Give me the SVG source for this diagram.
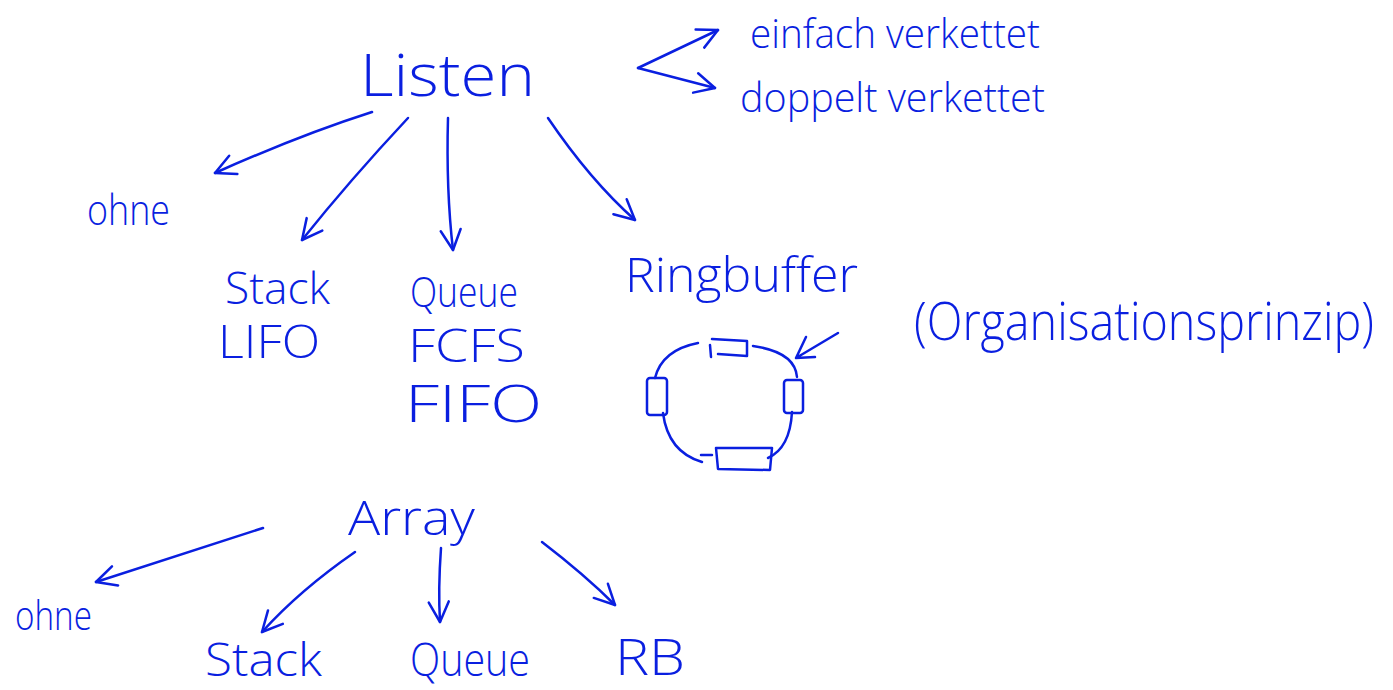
<svg xmlns="http://www.w3.org/2000/svg" width="1393" height="690" viewBox="0 0 1393 690">
<defs>
<style>
.t{font-family:"Open Sans","Liberation Sans",sans-serif;font-weight:300;fill:#0a1fe0}
.c path,.rb path,.rb rect{fill:none;stroke:#0a1fe0;stroke-width:2.5;stroke-linecap:round;stroke-linejoin:round}
</style>
<marker id="ah" viewBox="0 0 24 24" refX="22" refY="12" markerWidth="24" markerHeight="24" markerUnits="userSpaceOnUse" orient="auto">
<path d="M2,2 L22,12 L2,22" fill="none" stroke="#0a1fe0" stroke-width="2.5" stroke-linecap="round" stroke-linejoin="round"/>
</marker>
</defs>
<rect width="1393" height="690" fill="#ffffff"/>
<g class="c" id="connectors">
<path d="M372,112 Q300,135 215,173" marker-end="url(#ah)"/>
<path d="M408,118 Q350,180 302,240" marker-end="url(#ah)"/>
<path d="M448,118 Q446,190 453,250" marker-end="url(#ah)"/>
<path d="M548,118 Q590,180 635,220" marker-end="url(#ah)"/>
<path d="M638,68 L718,30" marker-end="url(#ah)"/>
<path d="M638,68 L715,88" marker-end="url(#ah)"/>
<path d="M263,528 Q180,555 96,582" marker-end="url(#ah)"/>
<path d="M355,552 Q300,590 262,632" marker-end="url(#ah)"/>
<path d="M441,548 Q438,590 440,622" marker-end="url(#ah)"/>
<path d="M542,542 Q585,575 615,605" marker-end="url(#ah)"/>
</g>
<g id="listen"><text class="t" x="360" y="96" font-size="58" textLength="175" lengthAdjust="spacingAndGlyphs">Listen</text></g>
<g id="einfach"><text class="t" x="750" y="48" font-size="40" textLength="290" lengthAdjust="spacingAndGlyphs">einfach verkettet</text></g>
<g id="doppelt"><text class="t" x="740" y="112" font-size="40" textLength="305" lengthAdjust="spacingAndGlyphs">doppelt verkettet</text></g>
<g id="ohne1"><text class="t" x="87" y="225" font-size="42" textLength="83" lengthAdjust="spacingAndGlyphs">ohne</text></g>
<g id="stack1"><text class="t" x="225" y="304" font-size="44" textLength="105" lengthAdjust="spacingAndGlyphs">Stack</text><text class="t" x="218" y="358" font-size="46" textLength="102" lengthAdjust="spacingAndGlyphs">LIFO</text></g>
<g id="queue1"><text class="t" x="410" y="307" font-size="42" textLength="108" lengthAdjust="spacingAndGlyphs">Queue</text><text class="t" x="408" y="362" font-size="46" textLength="117" lengthAdjust="spacingAndGlyphs">FCFS</text><text class="t" x="405" y="422" font-size="52" textLength="137" lengthAdjust="spacingAndGlyphs">FIFO</text></g>
<g id="ringbuffer"><text class="t" x="625" y="292" font-size="48" textLength="233" lengthAdjust="spacingAndGlyphs">Ringbuffer</text>
<g class="rb">
<path d="M712,339 L747,341 L747,356 L718,354"/>
<path d="M710,345 L711,357"/>
<path d="M698,343 Q662,350 655,378"/>
<rect x="647" y="378" width="20" height="37" rx="3"/>
<path d="M663,413 Q668,452 702,462"/>
<path d="M701,455 L712,455"/>
<path d="M716,448 L772,448 L770,470 L718,469 Z"/>
<path d="M768,458 Q790,448 792,412"/>
<rect x="784" y="380" width="19" height="33" rx="3"/>
<path d="M753,346 Q795,352 797,377"/>
<path d="M838,333 L796,358 M806,337 L796,358 L815,357"/>
</g></g>
<g id="organisation"><text class="t" transform="translate(914,340) scale(1,1.12)" x="0" y="0" font-size="48" textLength="460" lengthAdjust="spacingAndGlyphs">(Organisationsprinzip)</text></g>
<g id="array"><text class="t" x="348" y="535" font-size="48" textLength="127" lengthAdjust="spacingAndGlyphs">Array</text></g>
<g id="ohne2"><text class="t" x="15" y="630" font-size="40" textLength="77" lengthAdjust="spacingAndGlyphs">ohne</text></g>
<g id="stack2"><text class="t" x="205" y="676" font-size="46" textLength="117" lengthAdjust="spacingAndGlyphs">Stack</text></g>
<g id="queue2"><text class="t" x="410" y="676" font-size="46" textLength="120" lengthAdjust="spacingAndGlyphs">Queue</text></g>
<g id="rb"><text class="t" x="615" y="675" font-size="50" textLength="70" lengthAdjust="spacingAndGlyphs">RB</text></g>
</svg>
